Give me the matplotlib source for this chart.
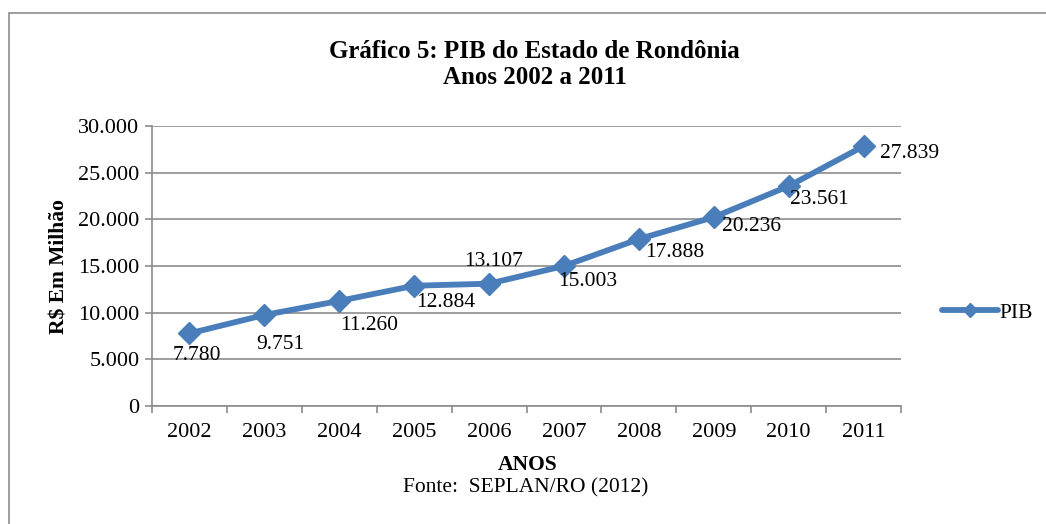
"""PIB do Estado de Rondônia, 2002 a 2011."""
from matplotlib import pyplot as plt
from matplotlib.patches import Rectangle

anos = ['2002', '2003', '2004', '2005', '2006', '2007', '2008', '2009', '2010', '2011']
pib = [7780, 9751, 11260, 12884, 13107, 15003, 17888, 20236, 23561, 27839]
rotulos = ['7.780', '9.751', '11.260', '12.884', '13.107', '15.003',
           '17.888', '20.236', '23.561', '27.839']
y_ticks = [0, 5000, 10000, 15000, 20000, 25000, 30000]
y_labels = ['0', '5.000', '10.000', '15.000', '20.000', '25.000', '30.000']

# where each data label sits relative to its point (points)
offsets = [(5, -16), (11.5, -21), (21.6, -18), (23, -12), (3, 16), (17, -11.5),
           (26, -10), (27, -7), (22, -9.4), (33, -5)]

plt.rcParams['font.family'] = ['Liberation Serif', 'DejaVu Serif']
cor = '#4a7ebb'
cinza = '#8c8c8c'

fig = plt.figure(figsize=(10.46, 5.24), dpi=100)
ax = fig.add_axes([0.1453, 0.2252, 0.7161, 0.5343])

# outer frame of the chart
fig.patches.append(Rectangle((9 / 1046, -0.1), 1.2, 1 - 13 / 524 + 0.1,
                             transform=fig.transFigure, fill=False,
                             edgecolor=cinza, linewidth=1.2))

x = list(range(len(anos)))
ax.plot(x, pib, color=cor, linewidth=4.2, marker='D', markersize=11.5,
        markeredgecolor=cor, label='PIB', zorder=3, solid_capstyle='round')

for xi, yi, txt, off in zip(x, pib, rotulos, offsets):
    ax.annotate(txt, (xi, yi), xytext=off, textcoords='offset points',
                ha='center', va='center', fontsize=15.5)

ax.set_xlim(-0.5, len(anos) - 0.5)
ax.set_ylim(0, 30000)
ax.set_yticks(y_ticks)
ax.set_yticklabels(y_labels)
ax.set_xticks(x)
ax.set_xticklabels(anos)
ax.set_xticks([i - 0.5 for i in range(len(anos) + 1)], minor=True)
ax.tick_params(axis='x', which='major', length=0, labelsize=16, pad=12)
ax.tick_params(axis='x', which='minor', length=5, color=cinza, width=1.2)
ax.tick_params(axis='y', length=5, color=cinza, width=1.2, labelsize=16, pad=4)

ax.grid(axis='y', color=cinza, linewidth=1.2)
ax.set_axisbelow(True)
for s in ['top', 'right']:
    ax.spines[s].set_visible(False)
for s in ['left', 'bottom']:
    ax.spines[s].set_color(cinza)
    ax.spines[s].set_linewidth(1.2)

ax.set_ylabel('R$ Em Milhão', fontsize=15.5, fontweight='bold', va='center')
ax.yaxis.set_label_coords(-0.124, 0.5)
fig.text(0.504, 1 - 465 / 524, 'ANOS', ha='center', va='center',
         fontsize=15.5, fontweight='bold')
fig.text(0.503, 1 - 488 / 524, 'Fonte:  SEPLAN/RO (2012)', ha='center',
         va='center', fontsize=15.5)
fig.text(0.511, 1 - 52 / 524, 'Gráfico 5: PIB do Estado de Rondônia',
         ha='center', va='center', fontsize=18, fontweight='bold')
fig.text(0.511, 1 - 77 / 524, 'Anos 2002 a 2011',
         ha='center', va='center', fontsize=18, fontweight='bold')

fig.legend(loc='center left', bbox_to_anchor=(0.892, 1 - 313 / 524),
           frameon=False, fontsize=15.5, handlelength=2.6, handletextpad=0.1,
           borderaxespad=0, markerscale=0.6)

fig.savefig('out.png', dpi=100)
